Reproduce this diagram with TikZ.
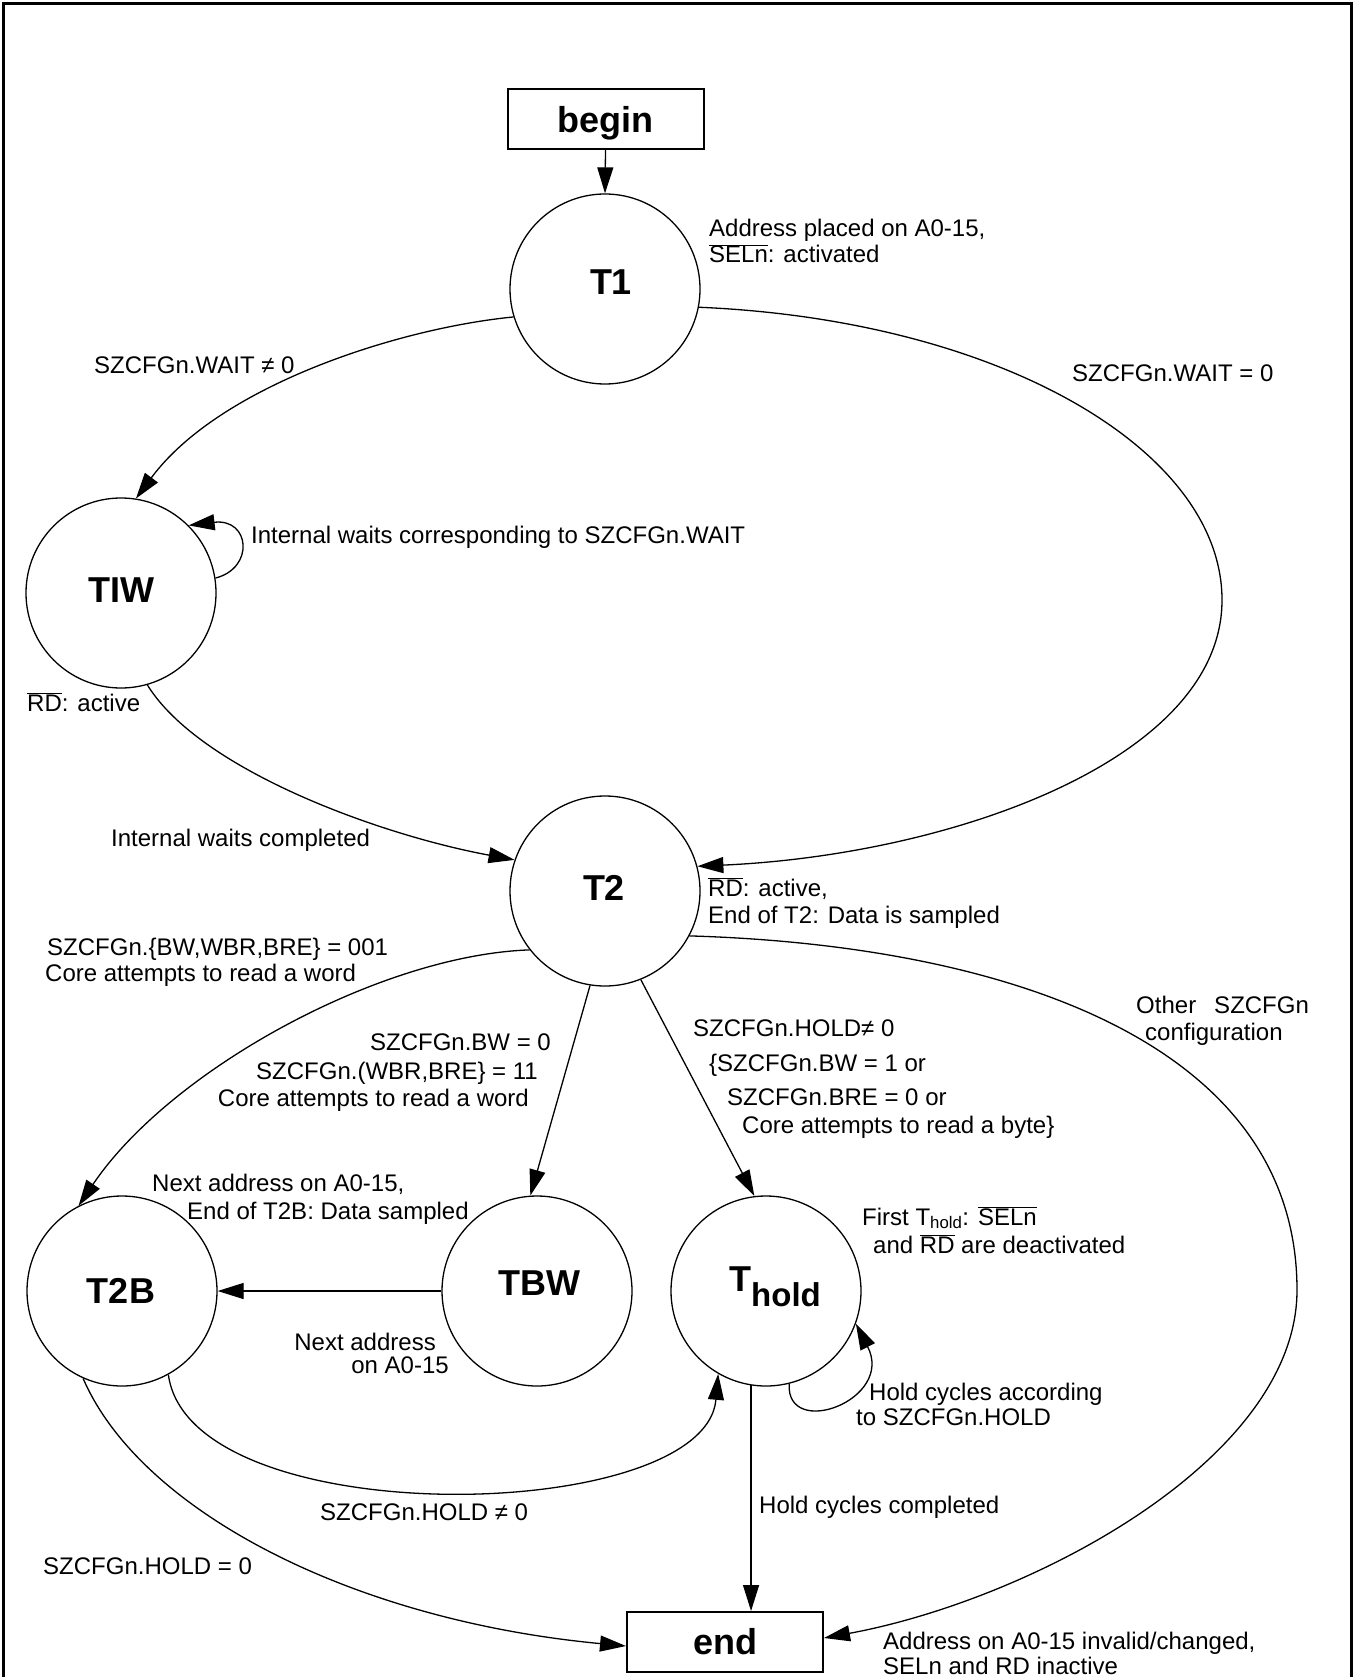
\documentclass[tikz,border=0pt]{standalone}
\usepackage{fontspec}
\setmainfont{Liberation Sans}
\usetikzlibrary{arrows.meta}
\newcommand{\ovl}[1]{$\overline{\mbox{#1}}$}
\newcommand{\lblfont}{\fontsize{24}{28}\selectfont}
\newcommand{\stfont}{\fontsize{36}{40}\selectfont\bfseries}
\begin{document}
\begin{tikzpicture}[x=1pt,y=-1pt,
  state/.style={circle,draw,line width=1.3pt,minimum size=190pt,inner sep=0pt},
  term/.style={draw,line width=2pt,minimum width=196pt,minimum height=60pt,inner sep=0pt},
  stname/.style={inner sep=0pt,font=\stfont},
  lbl/.style={anchor=base west,inner sep=0pt,font=\lblfont},
  lblr/.style={anchor=base east,inner sep=0pt,font=\lblfont},
  tr/.style={line width=1.3pt,-{Triangle[length=26pt,width=16pt]}},
]
\useasboundingbox (0,0) rectangle (1355,1677);
% open frame
\draw[line width=3pt] (3.5,1677) -- (3.5,4) -- (1351.5,4) -- (1351.5,1677);

% states and terminals
\node[term] (begin) at (605.5,119) {};
\node[stname] (beginname) at (605.5,123.5) {begin};
\node[state] (T1) at (605,289) {};
\node[stname] (T1name) at (611,282) {T1};
\node[state] (TIW) at (121,593) {};
\node[stname] (TIWname) at (121,590) {TIW};
\node[state] (T2) at (605,891) {};
\node[stname] (T2name) at (604,888) {T2};
\node[state] (T2B) at (122,1291) {};
\node[stname] (T2Bname) at (121,1291) {T2B};
\node[state] (TBW) at (537,1291) {};
\node[stname] (TBWname) at (539,1283) {TBW};
\node[state] (Thold) at (766,1291) {};
\node[stname,anchor=base west] (Tholdname) at (729,1291) {T\raisebox{-15pt}{\fontsize{33}{33}\selectfont hold}};
\node[term,font=\stfont] (end) at (725,1642) {end};

% transitions
\draw[tr] (begin.south) -- (T1.north);
\draw[tr] (T1.197) .. controls (400,328) and (220,385) .. (TIW.81);
\draw[tr] (TIW.9) .. controls (255,568) and (250,518) .. (TIW.45);
\draw[tr] (TIW.286) .. controls (200,770) and (380,835) .. (T2.161);
\draw[tr] (T1.349) .. controls (1000,320) and (1222,450) .. (1222,600)
          .. controls (1222,760) and (950,855) .. (T2.15);
\draw[tr] (T2.218) .. controls (380,955) and (170,1070) .. (T2B.117);
\draw[tr] (T2.261) -- (TBW.94);
\draw[tr] (T2.292) -- (Thold.97);
\draw[tr] (T2.332) .. controls (1000,945) and (1297,1040) .. (1297,1290)
          .. controls (1297,1460) and (1030,1600) .. ([yshift=4pt]end.east);
\draw[tr] (TBW.west) -- (T2B.east);
\draw[tr] (T2B.299) .. controls (190,1535) and (705,1525) .. (Thold.240);
\draw[tr] (Thold.284) .. controls (786,1440) and (895,1400) .. (Thold.340);
\draw[tr] (Thold.261) -- (Thold.261 |- end.north);
\draw[tr] (T2B.246) .. controls (140,1510) and (350,1620) .. ([yshift=-4pt]end.west);

% annotations
\node[lbl] (a1) at (709,237) {Address placed on A0-15,};
\node[lbl] (a2) at (709,263) {\ovl{SELn}: activated};
\node[lbl] (w1) at (94,373) {SZCFGn.WAIT ≠ 0};
\node[lbl] (w0) at (1072,381) {SZCFGn.WAIT = 0};
\node[lbl] (iw) at (251,543) {Internal waits corresponding to SZCFGn.WAIT};
\node[lbl] (rd1) at (27,711) {\ovl{RD}: active};
\node[lbl] (iwc) at (111,846) {Internal waits completed};
\node[lbl] (rd2) at (708,896) {\ovl{RD}: active,};
\node[lbl] (eot2) at (708,923) {End of T2: Data is sampled};
\node[lbl] (c1a) at (47,955) {SZCFGn.\{BW,WBR,BRE\} = 001};
\node[lbl] (c1b) at (45,981) {Core attempts to read a word};
\node[lblr] (c2a) at (551,1050) {SZCFGn.BW = 0};
\node[lblr] (c2b) at (538,1079) {SZCFGn.(WBR,BRE\} = 11};
\node[lblr] (c2c) at (529,1106) {Core attempts to read a word};
\node[lbl] (c3a) at (693,1036) {SZCFGn.HOLD≠ 0};
\node[lbl] (c3b) at (709,1071) {\{SZCFGn.BW = 1 or};
\node[lbl] (c3c) at (727,1105) {SZCFGn.BRE = 0 or};
\node[lbl] (c3d) at (742,1133) {Core attempts to read a byte\}};
\node[lbl] (oth1) at (1136,1013) {Other\hspace{18pt}SZCFGn};
\node[lbl] (oth2) at (1145,1040) {configuration};
\node[lbl] (fh1) at (862,1225) {First T\textsubscript{hold}: \ovl{SELn}};
\node[lbl] (fh2) at (873,1253) {and \ovl{RD} are deactivated};
\node[lbl] (na1) at (152,1191) {Next address on A0-15,};
\node[lbl] (na2) at (187,1219) {End of T2B: Data sampled};
\node[lblr] (nb1) at (436,1350) {Next address};
\node[lblr] (nb2) at (449,1373) {on A0-15};
\node[lbl] (hc1) at (869,1400) {Hold cycles according};
\node[lbl] (hc2) at (856,1425) {to SZCFGn.HOLD};
\node[lbl] (h1) at (320,1520) {SZCFGn.HOLD ≠ 0};
\node[lbl] (hcc) at (759,1513) {Hold cycles completed};
\node[lbl] (h0) at (43,1574) {SZCFGn.HOLD = 0};
\node[lbl] (e1) at (883,1649) {Address on A0-15 invalid/changed,};
\node[lbl] (e2) at (883,1674) {SELn and RD inactive};
\end{tikzpicture}
\end{document}
